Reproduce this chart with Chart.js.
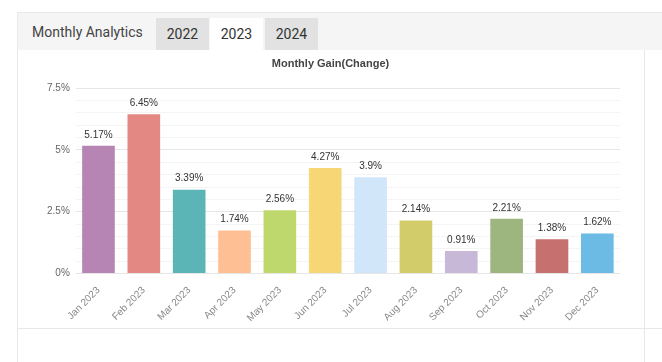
<!DOCTYPE html>
<html>
<head>
<meta charset="utf-8">
<script src="https://cdn.jsdelivr.net/npm/chart.js@4/dist/chart.umd.min.js"></script>
<style>
  body { margin: 0; width: 662px; height: 362px; background: #fff; font-family: Roboto, sans-serif; overflow: hidden; position: relative; }
  .panel { position: absolute; left: 17px; top: 12px; right: -2px; bottom: -2px; border: 1px solid #e8e8e8; }
  .head { position: absolute; left: 0; top: 0; right: 0; height: 37px; background: #f5f5f5; }
  .head .title { position: absolute; left: 14px; top: 11px; font-size: 14px; color: #444; }
  .tab { position: absolute; top: 5px; height: 32px; width: 53px; font-size: 14px; color: #333; line-height: 32px; text-align: center; background: #e2e2e2; }
  .tab.active { background: #fff; }
  .vline { position: absolute; left: 626px; top: 37px; bottom: 0; border-left: 1px solid #e8e8e8; }
  .hline { position: absolute; left: 0; right: 0; top: 315px; border-top: 1px solid #e8e8e8; }
  #wrap { position: absolute; left: 18px; top: 49px; width: 626px; height: 279px; }
</style>
</head>
<body>
<div class="panel">
  <div class="head">
    <span class="title">Monthly Analytics</span>
    <div class="tab" style="left:138px">2022</div>
    <div class="tab active" style="left:192px">2023</div>
    <div class="tab" style="left:247px">2024</div>
  </div>
  <div class="vline"></div>
  <div class="hline"></div>
</div>
<div id="wrap"><canvas id="gainChart"></canvas></div>
<script>
// --- Data ---
const months = ['Jan 2023', 'Feb 2023', 'Mar 2023', 'Apr 2023', 'May 2023', 'Jun 2023',
                'Jul 2023', 'Aug 2023', 'Sep 2023', 'Oct 2023', 'Nov 2023', 'Dec 2023'];
const gains = [5.17, 6.45, 3.39, 1.74, 2.56, 4.27, 3.9, 2.14, 0.91, 2.21, 1.38, 1.62];
const barColors = ['#b685b3', '#e38883', '#5bb4b5', '#ffbf94', '#bed86e', '#f7d675',
                   '#d1e6f8', '#d3cc6b', '#c8b8d8', '#9db57f', '#c77070', '#6bbbe5'];

// labels above each bar
const valueLabels = {
    id: 'valueLabels',
    afterDatasetsDraw(chart) {
        const ctx = chart.ctx;
        const meta = chart.getDatasetMeta(0);
        ctx.save();
        ctx.font = '10px "Liberation Sans", Arial, sans-serif';
        ctx.fillStyle = '#333';
        ctx.textAlign = 'center';
        ctx.textBaseline = 'bottom';
        meta.data.forEach((bar, i) => {
            ctx.fillText(gains[i] + '%', bar.x, bar.y - 6);
        });
        ctx.restore();
    }
};

const isMajor = (v) => Math.abs(v / 2.5 - Math.round(v / 2.5)) < 1e-6;

new Chart(document.getElementById('gainChart'), {
    type: 'bar',
    data: {
        labels: months,
        datasets: [{
            data: gains,
            backgroundColor: barColors,
            borderWidth: 0
        }]
    },
    options: {
        responsive: true,
        maintainAspectRatio: false,
        animation: false,
        layout: { padding: { left: 23, right: 24, top: 0, bottom: 1 } },
        plugins: {
            legend: { display: false },
            tooltip: { enabled: false },
            title: {
                display: true,
                text: 'Monthly Gain(Change)',
                color: '#444',
                font: { family: '"Liberation Sans", Arial, sans-serif', size: 11, weight: 'bold' },
                padding: { top: 8, bottom: 18 }
            }
        },
        scales: {
            x: {
                grid: { display: false },
                border: { display: false },
                ticks: {
                    color: '#888',
                    font: { family: '"Liberation Sans", Arial, sans-serif', size: 10 },
                    minRotation: 45,
                    maxRotation: 45
                }
            },
            y: {
                min: 0,
                max: 7.5,
                border: { display: false },
                grid: {
                    drawTicks: false,
                    color: (c) => isMajor(c.tick.value) ? '#e6e6e6' : '#f4f4f4'
                },
                ticks: {
                    stepSize: 0.5,
                    autoSkip: false,
                    padding: 6,
                    color: '#666',
                    font: { family: '"Liberation Sans", Arial, sans-serif', size: 10 },
                    callback: (v) => isMajor(v) ? v + '%' : ''
                }
            }
        }
    },
    plugins: [valueLabels]
});
</script>
</body>
</html>
